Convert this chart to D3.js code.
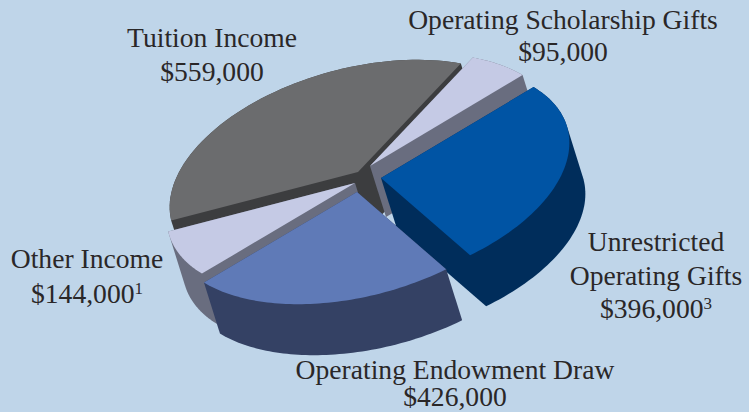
<!DOCTYPE html>
<html>
<head>
<meta charset="utf-8">
<script src="https://cdn.jsdelivr.net/npm/d3@7"></script>
<style>
  html, body { margin: 0; padding: 0; background: #bfd5e9; }
  svg { display: block; }
  text { font-family: "Liberation Serif", serif; font-size: 27.6px; fill: #2a2728; text-anchor: middle; }
</style>
</head>
<body>
<script>
// Slices in clockwise order, starting from the Scholarship slice
const categories = ['Operating Scholarship Gifts', 'Unrestricted Operating Gifts', 'Operating Endowment Draw', 'Other Income', 'Tuition Income'];
const amounts = [95000, 396000, 426000, 144000, 559000];
const footnotes = ['', '3', '', '1', ''];
const topColors = ['#c5cae5', '#0054a4', '#5f7ab7', '#c5cae5', '#6b6c6e'];
const wallColors = ['#696d7f', '#002d5b', '#344164', '#696d7f', '#3c3d3f'];
// How far each slice is pulled out of the pie
const pullOut = [[6, -12], [17, 0], [-7, 14], [-9, 5], [-6, -6]];
// Back to front
const paintOrder = [4, 0, 3, 1, 2];

const width = 749, height = 412;
const cx = 364, cy = 178;      // pie centre on the page
const rx = 193, ry = 104;      // tilted ellipse of the top face
const tilt = -15 * Math.PI / 180;
const depth = [16, 51];        // extrusion direction of the walls
const startAt = -48.7 * Math.PI / 180;

const svg = d3.select('body').append('svg')
  .attr('width', width)
  .attr('height', height);

svg.append('rect').attr('width', width).attr('height', height).attr('fill', '#bfd5e9');

const arcs = d3.pie().sort(null).value(d => d)(amounts);

// The original has a perspective look, so angles on screen are not quite linear
function warp(a) {
  return a + (6 * Math.sin(a) - 3.5 * Math.sin(2 * a) + 1.3 * (1 - Math.cos(a))) * Math.PI / 180;
}

// pie angle -> point on the rim, relative to the slice apex
function rim(a) {
  const t = startAt + warp(a);
  const u = rx * Math.cos(t), v = ry * Math.sin(t);
  return [u * Math.cos(tilt) - v * Math.sin(tilt), u * Math.sin(tilt) + v * Math.cos(tilt)];
}

const line = d3.line();

paintOrder.forEach(i => {
  const d = arcs[i];
  const apex = [cx + pullOut[i][0], cy + pullOut[i][1]];

  const steps = d3.range(0, 61).map(k => d.startAngle + (d.endAngle - d.startAngle) * k / 60);
  const top = [apex].concat(steps.map(a => {
    const p = rim(a);
    return [apex[0] + p[0], apex[1] + p[1]];
  }));

  // every slice is under 180 degrees, so the swept wall is just a hull
  const wall = d3.polygonHull(top.concat(top.map(p => [p[0] + depth[0], p[1] + depth[1]])));

  svg.append('path')
    .attr('d', line(wall) + 'Z')
    .attr('fill', wallColors[i]);

  svg.append('path')
    .attr('d', line(top) + 'Z')
    .attr('fill', topColors[i]);
});

// Labels
const labels = [
  { i: 4, x: 212, lines: [['Tuition Income', 47], ['$', 81]] },
  { i: 0, x: 563, lines: [['Operating Scholarship Gifts', 29], ['$', 61]] },
  { i: 1, x: 656, lines: [['Unrestricted', 251], ['Operating Gifts', 285], ['$', 318]] },
  { i: 3, x: 87, lines: [['Other Income', 268], ['$', 303]] },
  { i: 2, x: 455, lines: [['Operating Endowment Draw', 379], ['$', 406]] }
];

labels.forEach(l => {
  l.lines.forEach(([s, y]) => {
    const t = svg.append('text').attr('x', l.x).attr('y', y);
    if (s === '$') {
      t.append('tspan').text(d3.format('$,')(amounts[l.i]));
      if (footnotes[l.i]) {
        t.append('tspan').attr('font-size', 17).attr('dy', -9).text(footnotes[l.i]);
      }
    } else {
      t.text(s);
    }
  });
});
</script>
</body>
</html>
